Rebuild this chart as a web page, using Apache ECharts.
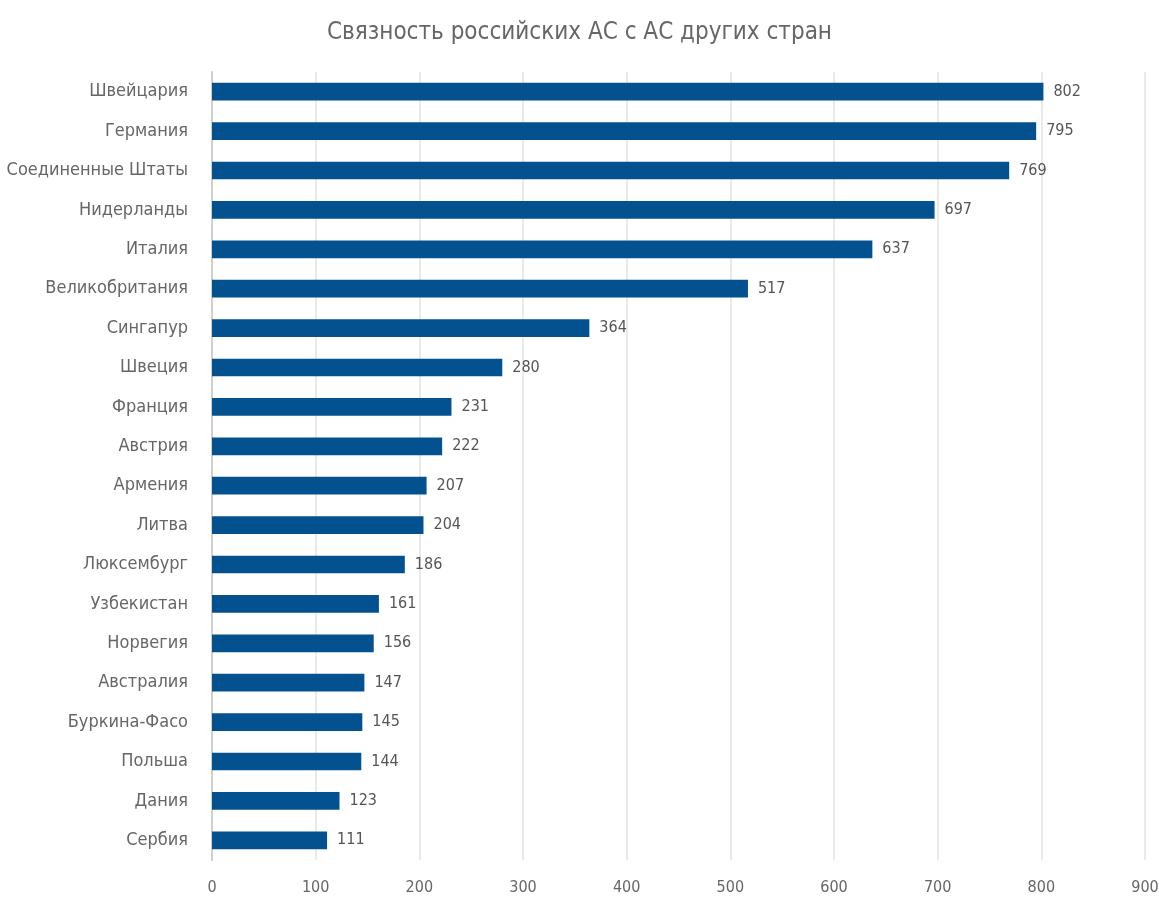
<!DOCTYPE html>
<html><head><meta charset="utf-8">
<script src="https://cdn.jsdelivr.net/npm/echarts@6/dist/echarts.min.js"></script>
<style>html,body{margin:0;padding:0;background:#fff}#c{width:1159px;height:900px}</style>
</head><body><div id="c"></div>
<script>
const categories = ["Швейцария","Германия","Соединенные Штаты","Нидерланды","Италия","Великобритания","Сингапур","Швеция","Франция","Австрия","Армения","Литва","Люксембург","Узбекистан","Норвегия","Австралия","Буркина-Фасо","Польша","Дания","Сербия"];
const values = [802,795,769,697,637,517,364,280,231,222,207,204,186,161,156,147,145,144,123,111];
const xTicks = [0,100,200,300,400,500,600,700,800,900];
const titleText = "Связность российских АС с АС других стран";
const font = "'DejaVu Sans Condensed','Liberation Sans Narrow',sans-serif";
const chart = echarts.init(document.getElementById('c'));
chart.setOption({
  animation:false,
  title:{text:titleText,left:'center',top:16,textStyle:{fontFamily:font,fontSize:24,fontWeight:'normal',color:'#666'}},
  grid:{left:212,right:14,top:72,bottom:40,containLabel:false,outerBoundsMode:'none'},
  xAxis:{type:'value',min:xTicks[0],max:xTicks[xTicks.length-1],interval:100,
    axisLine:{show:false},axisTick:{show:false},
    splitLine:{lineStyle:{color:'#e3e3e3',width:1.5}},
    axisLabel:{fontFamily:font,fontSize:16,color:'#666',margin:20}},
  yAxis:{type:'category',inverse:true,data:categories,
    axisLine:{lineStyle:{color:'#d0d0d0',width:2}},axisTick:{show:false},
    axisLabel:{fontFamily:font,fontSize:18,color:'#666',margin:24}},
  series:[{type:'bar',data:values,barWidth:'45%',
    itemStyle:{color:'#03528F'},
    label:{show:true,position:'right',distance:10,fontFamily:font,fontSize:16,color:'#555'}}]
});
</script></body></html>
